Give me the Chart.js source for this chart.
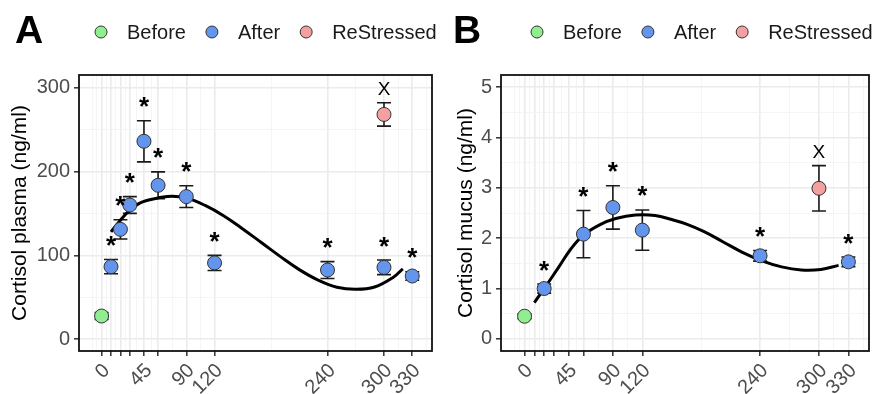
<!DOCTYPE html>
<html>
<head>
<meta charset="utf-8">
<script src="https://cdn.jsdelivr.net/npm/chart.js@4.4.1/dist/chart.umd.min.js"></script>
<style>
  html, body { margin: 0; padding: 0; background: #fff; }
  #wrap { position: relative; width: 877px; height: 394px; }
  canvas { position: absolute; top: 0; }
</style>
</head>
<body>
<div id="wrap">
  <canvas id="chartA" width="440" height="394" style="left:0"></canvas>
  <canvas id="chartB" width="437" height="394" style="left:440px"></canvas>
</div>
<script>
// shared time axis (minutes)
var xBreaks = [0, 10, 20, 30, 45, 60, 90, 120, 240, 300, 330];
var xLabels = ['0', '', '', '', '45', '', '90', '120', '240', '300', '330'];
var xMinor = [-10, -5, 5, 15, 25, 37.5, 52.5, 75, 105, 180, 270, 315, 345];

// A: cortisol plasma
var plasmaBeforeTime = [0];
var plasmaBefore = [27.7];
var plasmaBeforeSE = [4];
var plasmaAfterTime = [10, 20, 30, 45, 60, 90, 120, 240, 300, 330];
var plasmaAfter = [86.5, 131, 160, 236, 183.5, 170, 91, 82.5, 85.7, 75.4];
var plasmaAfterSE = [8.5, 11.5, 10, 24.5, 16, 13, 9, 10, 8.7, 5];
var plasmaReTime = [300];
var plasmaRe = [268];
var plasmaReSE = [14];
var plasmaFitTime = [10, 20, 30, 40, 50, 60, 75, 90, 110, 130, 150, 170, 190, 210, 230, 250, 270, 290, 310, 320];
var plasmaFit = [128, 142, 154, 162, 166, 168.5, 170.5, 168.5, 159.5, 147, 131.5, 115, 98.5, 83, 70.5, 62, 59.5, 62.3, 74, 84];
var plasmaTicks = [0, 100, 200, 300];
var plasmaMinor = [50, 150, 250];

// B: cortisol mucus
var mucusBeforeTime = [0];
var mucusBefore = [0.45];
var mucusBeforeSE = [0.05];
var mucusAfterTime = [20, 60, 90, 120, 240, 330];
var mucusAfter = [1.0, 2.08, 2.61, 2.16, 1.65, 1.53];
var mucusAfterSE = [0.09, 0.47, 0.43, 0.40, 0.105, 0.095];
var mucusReTime = [300];
var mucusRe = [2.99];
var mucusReSE = [0.45];
var mucusFitTime = [10, 20, 35, 47, 60, 77, 93, 113, 133, 150, 165, 183, 202, 222, 242, 262, 282, 302, 320];
var mucusFit = [0.72, 1.0, 1.43, 1.78, 2.06, 2.27, 2.39, 2.46, 2.45, 2.37, 2.28, 2.13, 1.93, 1.72, 1.55, 1.43, 1.37, 1.38, 1.46];
var mucusTicks = [0, 1, 2, 3, 4, 5];
var mucusMinor = [0.5, 1.5, 2.5, 3.5, 4.5];

var groupNames = ['Before', 'After', 'ReStressed'];
var groupColors = ['#90EE90', '#6495ED', '#F4A0A0'];

var FONT = '"Liberation Sans", Arial, sans-serif';

function pts(xs, ys) {
	return xs.map(function (x, i) { return { x: x, y: ys[i] }; });
}

var panelPlugin = {
	id: 'panel',
	beforeDatasetsDraw: function (chart) {
		var o = chart.options.plugins.panel;
		var ctx = chart.ctx, xs = chart.scales.x, ys = chart.scales.y;
		ctx.save();
		ctx.strokeStyle = '#1a1a1a';
		ctx.lineWidth = 1.6;
		o.bars.forEach(function (b) {
			var px = xs.getPixelForValue(b.x);
			var top = ys.getPixelForValue(b.y + b.se);
			var bot = ys.getPixelForValue(b.y - b.se);
			ctx.beginPath();
			ctx.moveTo(px, top); ctx.lineTo(px, bot);
			ctx.moveTo(px - 7, top); ctx.lineTo(px + 7, top);
			ctx.moveTo(px - 7, bot); ctx.lineTo(px + 7, bot);
			ctx.stroke();
		});
		ctx.restore();
	},
	afterDatasetsDraw: function (chart) {
		var o = chart.options.plugins.panel;
		var ctx = chart.ctx, xs = chart.scales.x, ys = chart.scales.y, a = chart.chartArea;
		ctx.save();
		ctx.fillStyle = '#000';
		ctx.textAlign = 'center';
		ctx.textBaseline = 'alphabetic';
		o.bars.forEach(function (b) {
			if (!b.mark) return;
			var star = b.mark === '*';
			ctx.font = star ? 'bold 26px ' + FONT : '19px ' + FONT;
			var m = ctx.measureText(b.mark);
			var yc = ys.getPixelForValue(b.y + b.se) - (star ? 18.5 : 14);
			var base = yc + (m.actualBoundingBoxAscent - m.actualBoundingBoxDescent) / 2;
			ctx.fillText(b.mark, xs.getPixelForValue(b.x), base);
		});
		ctx.strokeStyle = '#111';
		ctx.lineWidth = 1.8;
		ctx.strokeRect(a.left, a.top, a.right - a.left, a.bottom - a.top);
		ctx.restore();
	},
	afterDraw: function (chart) {
		var o = chart.options.plugins.panel;
		var ctx = chart.ctx;
		ctx.save();
		ctx.fillStyle = '#000';
		ctx.font = 'bold 39px ' + FONT;
		ctx.textBaseline = 'alphabetic';
		ctx.fillText(o.letter, o.letterX, 43);
		ctx.font = '20px ' + FONT;
		ctx.textBaseline = 'middle';
		var cx = o.legendX;
		groupNames.forEach(function (name, i) {
			ctx.beginPath();
			ctx.arc(cx, 32, 6, 0, Math.PI * 2);
			ctx.fillStyle = groupColors[i];
			ctx.fill();
			ctx.strokeStyle = '#333';
			ctx.lineWidth = 1;
			ctx.stroke();
			ctx.fillStyle = '#1a1a1a';
			ctx.fillText(name, cx + 26, 33);
			cx = cx + 26 + ctx.measureText(name).width + 26;
		});
		ctx.restore();
	}
};

function buildPanel(id, p) {
	var yAll = p.yTicks.concat(p.yMinor).sort(function (a, b) { return a - b; });
	var xAll = xBreaks.concat(xMinor).sort(function (a, b) { return a - b; });
	function isMajorX(v) { return xBreaks.indexOf(v) >= 0; }
	function isMajorY(v) { return p.yTicks.indexOf(v) >= 0; }

	var bars = [];
	p.before.t.forEach(function (t, i) { bars.push({ x: t, y: p.before.v[i], se: p.before.se[i], mark: '' }); });
	p.after.t.forEach(function (t, i) { bars.push({ x: t, y: p.after.v[i], se: p.after.se[i], mark: '*' }); });
	p.re.t.forEach(function (t, i) { bars.push({ x: t, y: p.re.v[i], se: p.re.se[i], mark: 'X' }); });

	function pointSet(label, g, color) {
		return {
			label: label, data: pts(g.t, g.v), backgroundColor: color, borderColor: '#333',
			borderWidth: 1, pointRadius: 7, pointHoverRadius: 7, order: 1
		};
	}

	return new Chart(document.getElementById(id), {
		type: 'scatter',
		data: {
			datasets: [
				{
					label: 'fit', type: 'line', data: pts(p.fit.t, p.fit.v), showLine: true,
					borderColor: '#000', borderWidth: 3, pointRadius: 0, fill: false,
					tension: 0.4, order: 3
				},
				pointSet('Before', p.before, groupColors[0]),
				pointSet('After', p.after, groupColors[1]),
				pointSet('ReStressed', p.re, groupColors[2])
			]
		},
		options: {
			responsive: false,
			animation: false,
			events: [],
			layout: { padding: { top: 75, left: 0, right: p.rightPad, bottom: 0 } },
			plugins: {
				legend: { display: false },
				tooltip: { enabled: false },
				panel: { bars: bars, letter: p.letter, letterX: p.letterX, legendX: p.legendX }
			},
			scales: {
				x: {
					type: 'linear', min: -24, max: 351,
					afterBuildTicks: function (s) { s.ticks = xAll.map(function (v) { return { value: v }; }); },
					afterFit: function (s) { s.height = 43; s.paddingLeft = 0; s.paddingRight = 0; },
					border: { display: false },
					grid: {
						color: function (c) { return c.tick && isMajorX(c.tick.value) ? '#EBEBEB' : '#F3F3F3'; },
						lineWidth: function (c) { return c.tick && isMajorX(c.tick.value) ? 1.6 : 0.8; },
						tickColor: function (c) { return c.tick && isMajorX(c.tick.value) ? '#333' : 'rgba(0,0,0,0)'; },
						tickWidth: 1.5,
						tickLength: 5
					},
					ticks: {
						autoSkip: false, maxRotation: 45, minRotation: 45, padding: 3, labelOffset: 5,
						color: '#4D4D4D', font: { family: FONT, size: 20 },
						callback: function (v) { var i = xBreaks.indexOf(v); return i >= 0 ? xLabels[i] : ''; }
					}
				},
				y: {
					type: 'linear', min: p.yMin, max: p.yMax,
					afterBuildTicks: function (s) { s.ticks = yAll.map(function (v) { return { value: v }; }); },
					afterFit: function (s) { s.width = p.leftWidth; s.paddingTop = 0; s.paddingBottom = 0; },
					border: { display: false },
					grid: {
						color: function (c) { return c.tick && isMajorY(c.tick.value) ? '#EBEBEB' : '#F3F3F3'; },
						lineWidth: function (c) { return c.tick && isMajorY(c.tick.value) ? 1.6 : 0.8; },
						tickColor: function (c) { return c.tick && isMajorY(c.tick.value) ? '#333' : 'rgba(0,0,0,0)'; },
						tickWidth: 1.5,
						tickLength: 5
					},
					ticks: {
						autoSkip: false, padding: 4,
						color: '#4D4D4D', font: { family: FONT, size: 20 },
						callback: function (v) { return isMajorY(v) ? String(v) : ''; }
					},
					title: {
						display: true, text: p.yTitle, color: '#000',
						font: { family: FONT, size: 21 }, padding: { top: p.titlePad, bottom: 0 }
					}
				}
			}
		},
		plugins: [panelPlugin]
	});
}

buildPanel('chartA', {
	letter: 'A', letterX: 15, legendX: 101, rightPad: 4, leftWidth: 79, titlePad: 8,
	yTitle: 'Cortisol plasma (ng/ml)', yMin: -14, yMax: 315, yTicks: plasmaTicks, yMinor: plasmaMinor,
	before: { t: plasmaBeforeTime, v: plasmaBefore, se: plasmaBeforeSE },
	after: { t: plasmaAfterTime, v: plasmaAfter, se: plasmaAfterSE },
	re: { t: plasmaReTime, v: plasmaRe, se: plasmaReSE },
	fit: { t: plasmaFitTime, v: plasmaFit }
});

buildPanel('chartB', {
	letter: 'B', letterX: 13, legendX: 97, rightPad: 1, leftWidth: 61, titlePad: 14,
	yTitle: 'Cortisol mucus (ng/ml)', yMin: -0.24, yMax: 5.24, yTicks: mucusTicks, yMinor: mucusMinor,
	before: { t: mucusBeforeTime, v: mucusBefore, se: mucusBeforeSE },
	after: { t: mucusAfterTime, v: mucusAfter, se: mucusAfterSE },
	re: { t: mucusReTime, v: mucusRe, se: mucusReSE },
	fit: { t: mucusFitTime, v: mucusFit }
});
</script>
</body>
</html>
